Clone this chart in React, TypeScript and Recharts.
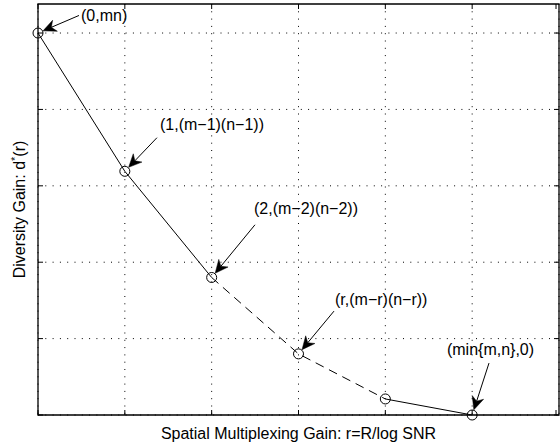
import React from 'react'
import {
  ComposedChart,
  Line,
  XAxis,
  YAxis,
  CartesianGrid,
  ReferenceLine,
  ReferenceArea,
} from 'recharts'

// multiplexing gain r and diversity gain d*(r) at the corner points
const rs = [0, 1, 2, 3, 4, 5]
const ds = [5, 3.19, 1.8, 0.8, 0.21, 0]

const xTicks = [0, 1, 2, 3, 4, 5, 6]
const yTicks = [0, 1, 2, 3, 4, 5]
const X_MAX = 6
const Y_MAX = 5.38

// annotations: text, where the arrow starts (data units) and which point it hits
const noteTexts = [
  '(0,mn)',
  '(1,(m\u22121)(n\u22121))',
  '(2,(m\u22122)(n\u22122))',
  '(r,(m\u2212r)(n\u2212r))',
  '(min{m,n},0)',
]
const noteTailR = [0.472, 1.37, 2.499, 3.409, 5.194]
const noteTailD = [5.23, 3.63, 2.49, 1.36, 0.68]
const noteTarget = [0, 1, 2, 3, 5]

// text placement relative to the arrow tail, in px
const noteDx = [2, 3, -1, 1, 1.5]
const noteDy = [5.5, -7.5, -10.5, -6, -8]
const noteAnchor = ['start', 'start', 'start', 'start', 'middle']

const FONT = '"Liberation Sans", Arial, Helvetica, sans-serif'
const W = 560
const H = 444
const M = { top: 4, right: 1, bottom: 0, left: 0 }
const Y_AXIS_W = 38
const X_AXIS_H = 29
const PLOT_W = W - M.left - M.right - Y_AXIS_W
const PLOT_H = H - M.top - M.bottom - X_AXIS_H

const rows = rs.map((r, i) => ({
  r,
  d: ds[i],
  solidA: i <= 2 ? ds[i] : null,
  dashed: i >= 2 && i <= 4 ? ds[i] : null,
  solidB: i >= 4 ? ds[i] : null,
}))

// matlab style inward ticks, on both opposite sides of the box
const xTick = (props: any) => (
  <g>
    <line x1={props.x} y1={props.y} x2={props.x} y2={props.y - 5} stroke="#000" />
    <line
      x1={props.x}
      y1={props.y - PLOT_H}
      x2={props.x}
      y2={props.y - PLOT_H + 5}
      stroke="#000"
    />
  </g>
)

const yTick = (props: any) => (
  <g>
    <line x1={props.x} y1={props.y} x2={props.x + 5} y2={props.y} stroke="#000" />
    <line
      x1={props.x + PLOT_W}
      y1={props.y}
      x2={props.x + PLOT_W - 5}
      y2={props.y}
      stroke="#000"
    />
  </g>
)

const makeArrow = (i: number) => (props: any) => {
  const { x1, y1, x2, y2 } = props
  const vx = x2 - x1
  const vy = y2 - y1
  const len = Math.sqrt(vx * vx + vy * vy)
  const ux = vx / len
  const uy = vy / len
  const gap = 5.5
  const tx = x2 - ux * gap
  const ty = y2 - uy * gap
  const headLen = 13
  const halfW = 6
  const notch = 9
  const bx = tx - ux * headLen
  const by = ty - uy * headLen
  const nx = tx - ux * notch
  const ny = ty - uy * notch
  const head = [
    `${tx},${ty}`,
    `${bx - uy * halfW},${by + ux * halfW}`,
    `${nx},${ny}`,
    `${bx + uy * halfW},${by - ux * halfW}`,
  ].join(' ')
  return (
    <g>
      <line x1={x1} y1={y1} x2={nx} y2={ny} stroke="#000" strokeWidth={1} />
      <polygon points={head} fill="#000" stroke="#000" strokeWidth={0.5} />
      <text
        x={x1 + noteDx[i]}
        y={y1 + noteDy[i]}
        textAnchor={noteAnchor[i] as any}
        fontSize={16}
        fontFamily={FONT}
        fill="#000"
      >
        {noteTexts[i]}
      </text>
    </g>
  )
}

const xLabel = (props: any) => {
  const vb = props.viewBox
  return (
    <text
      x={vb.x + vb.width / 2}
      y={vb.y + 24}
      textAnchor="middle"
      fontSize={16}
      fontFamily={FONT}
      fill="#000"
    >
      Spatial Multiplexing Gain: r=R/log SNR
    </text>
  )
}

const yLabel = (props: any) => {
  const vb = props.viewBox
  const cx = vb.x + 25
  const cy = vb.y + vb.height / 2
  return (
    <text
      x={cx}
      y={cy}
      textAnchor="middle"
      transform={`rotate(-90 ${cx} ${cy})`}
      fontSize={16}
      fontFamily={FONT}
      fill="#000"
    >
      Diversity Gain: d
      <tspan fontSize={11} dy={-6}>*</tspan>
      <tspan dy={6}>(r)</tspan>
    </text>
  )
}

export default function App() {
  return (
    <div style={{ position: 'absolute', left: 0, top: 0, background: '#fff' }}>
      <ComposedChart width={W} height={H} data={rows} margin={M}>
        <CartesianGrid
          stroke="#000"
          strokeWidth={1}
          strokeDasharray="1 6.3"
          horizontalValues={yTicks}
          verticalValues={xTicks}
        />
        <XAxis
          dataKey="r"
          type="number"
          domain={[0, X_MAX]}
          ticks={xTicks}
          height={X_AXIS_H}
          tickSize={0}
          tickMargin={0}
          tickLine={false}
          tick={xTick}
          axisLine={false}
          label={xLabel}
        />
        <YAxis
          type="number"
          domain={[0, Y_MAX]}
          ticks={yTicks}
          width={Y_AXIS_W}
          tickSize={0}
          tickMargin={0}
          tickLine={false}
          tick={yTick}
          axisLine={false}
          label={yLabel}
        />
        <ReferenceArea
          x1={0}
          x2={X_MAX}
          y1={0}
          y2={Y_MAX}
          fill="none"
          fillOpacity={0}
          stroke="#000"
          strokeWidth={1.3}
          ifOverflow="visible"
        />
        <Line
          dataKey="solidA"
          stroke="#000"
          strokeWidth={1}
          dot={false}
          isAnimationActive={false}
        />
        <Line
          dataKey="dashed"
          stroke="#000"
          strokeWidth={1}
          strokeDasharray="9 6"
          dot={false}
          isAnimationActive={false}
        />
        <Line
          dataKey="solidB"
          stroke="#000"
          strokeWidth={1}
          dot={false}
          isAnimationActive={false}
        />
        <Line
          dataKey="d"
          stroke="none"
          dot={{ r: 5, fill: 'none', stroke: '#000', strokeWidth: 1 }}
          activeDot={false}
          isAnimationActive={false}
        />
        {noteTexts.map((_, i) => (
          <ReferenceLine
            key={i}
            segment={[
              { x: noteTailR[i], y: noteTailD[i] },
              { x: rs[noteTarget[i]], y: ds[noteTarget[i]] },
            ]}
            ifOverflow="visible"
            shape={makeArrow(i)}
          />
        ))}
      </ComposedChart>
    </div>
  )
}
